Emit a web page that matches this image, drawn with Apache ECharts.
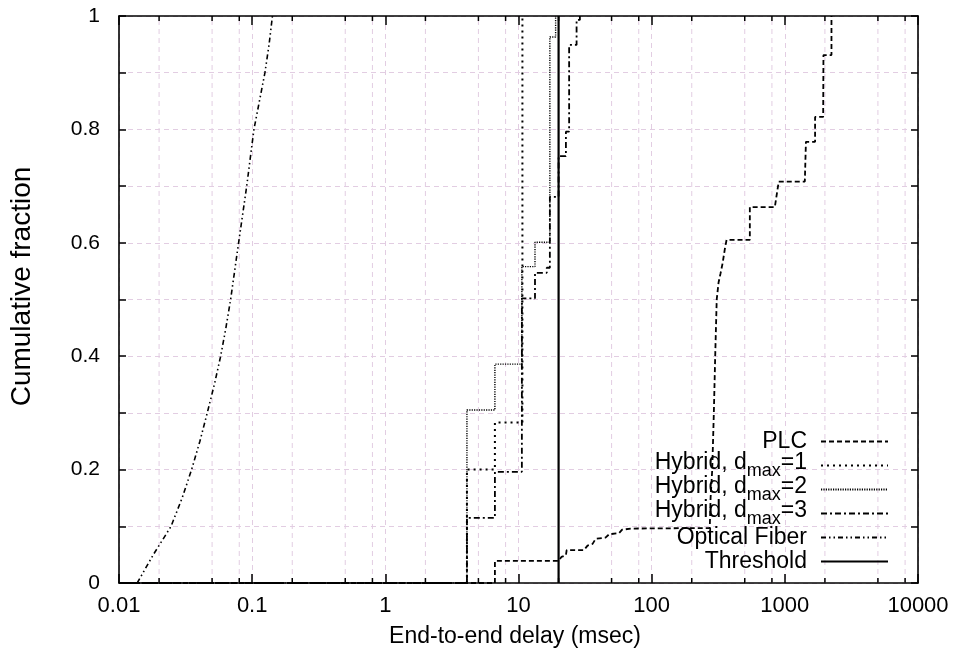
<!DOCTYPE html>
<html>
<head>
<meta charset="utf-8">
<script src="https://cdn.jsdelivr.net/npm/echarts@6/dist/echarts.min.js"></script>
<style>
html,body{margin:0;padding:0;background:#fff;}
#chart{width:957px;height:657px;}
</style>
</head>
<body>
<div id="chart"></div>
<script>
// ---- data ----
const xTickLabels = ['0.01', '0.1', '1', '10', '100', '1000', '10000'];
const yTickLabels = ['0', '0.2', '0.4', '0.6', '0.8', '1'];
// extra x grid/tick positions (2, 5, 8 in every decade)
const xMinorTicks = [0.02, 0.05, 0.08, 0.2, 0.5, 0.8, 2, 5, 8, 20, 50, 80,
  200, 500, 800, 2000, 5000, 8000];

// PLC (explicit points)
const plcX = [0.01, 6.65, 6.65, 20, 21, 22.7, 23, 31, 33, 36, 38, 45, 48, 57, 60, 70,
  273, 277, 285, 293, 300, 308, 318, 329, 341, 355, 365, 546, 546, 841, 900,
  1413, 1440, 1687, 1687, 1940, 1950, 2240, 2240];
const plcY = [0, 0, 0.039, 0.039, 0.046, 0.049, 0.058, 0.058, 0.066, 0.069, 0.078, 0.08, 0.086, 0.088, 0.094, 0.096,
  0.097, 0.15, 0.2, 0.3, 0.4, 0.5, 0.53, 0.546, 0.564, 0.59, 0.605, 0.605, 0.663, 0.663, 0.708,
  0.708, 0.778, 0.778, 0.822, 0.822, 0.931, 0.931, 1.0];

// Hybrid series (step functions, value reached at each x)
const hyb1X = [0.01, 4.1, 6.65, 10.7];
const hyb1Y = [0, 0.2, 0.283, 1.0];
const hyb2X = [0.01, 4.1, 6.65, 10.6, 13.3, 17.2, 19.0];
const hyb2Y = [0, 0.305, 0.386, 0.558, 0.601, 0.963, 1.0];
const hyb3X = [0.01, 4.1, 6.65, 10.6, 13.3, 16.3, 17.2, 20, 22.7, 24, 27.3, 28.9];
const hyb3Y = [0, 0.115, 0.196, 0.502, 0.547, 0.556, 0.681, 0.753, 0.796, 0.949, 0.993, 1.0];

// Optical fiber
const fiberX = [0.0137, 0.0181, 0.0246, 0.0298, 0.0351, 0.0405, 0.046, 0.052, 0.058, 0.0635,
  0.0689, 0.0791, 0.091, 0.1031, 0.1247, 0.134, 0.142];
const fiberY = [0, 0.05, 0.1, 0.15, 0.2, 0.25, 0.3, 0.35, 0.4, 0.45,
  0.5, 0.6, 0.7, 0.8, 0.9, 0.95, 1.0];

// Threshold
const thrX = [20, 20];
const thrY = [0, 1];

const seriesNames = ['PLC', 'Hybrid, dmax=1', 'Hybrid, dmax=2', 'Hybrid, dmax=3', 'Optical Fiber', 'Threshold'];

// ---- chart ----
const zip = (xs, ys) => xs.map((x, i) => [x, ys[i]]);
const gridColor = '#e2cde2';
const FONT = 'Liberation Sans';

const chart = echarts.init(document.getElementById('chart'), null, {renderer: 'canvas'});

function lineSeries(name, data, dash, width, step) {
  return {
    name: name, type: 'line', data: data, symbol: 'none', step: step || false,
    xAxisIndex: 0, yAxisIndex: 0, z: 3, animation: false,
    lineStyle: {color: '#000', width: width, type: dash, cap: 'butt'},
    itemStyle: {color: '#000'}
  };
}

const xLabelFmt = v => {
  const e = Math.round(Math.log10(v));
  return xTickLabels[e + 2] || '';
};

const baseX = {
  type: 'log', logBase: 10, min: 0.01, max: 10000,
  axisLine: {show: true, onZero: false, lineStyle: {color: '#000', width: 1.6}},
  axisTick: {show: true, inside: true, length: 9, lineStyle: {color: '#000', width: 1.5}},
  minorTick: {show: false},
  splitLine: {show: false},
};
const baseY = {
  type: 'value', min: 0, max: 1, interval: 0.2,
  axisLine: {show: true, lineStyle: {color: '#000', width: 1.6}},
  axisTick: {show: true, inside: true, length: 7, lineStyle: {color: '#000', width: 1.5}},
  minorTick: {show: true, splitNumber: 2, length: 7, lineStyle: {color: '#000', width: 1.5}},
  splitLine: {show: false},
};

const option = {
  backgroundColor: '#fff',
  animation: false,
  grid: {left: 119, right: 39, top: 16, bottom: 74, containLabel: false},
  xAxis: [
    Object.assign({}, baseX, {
      position: 'bottom',
      name: 'End-to-end delay (msec)', nameLocation: 'middle', nameGap: 42,
      nameTextStyle: {fontFamily: FONT, fontSize: 23, color: '#000', padding: [0, 7, 0, 0]},
      axisLabel: {show: true, margin: 12, formatter: xLabelFmt, fontFamily: FONT, fontSize: 22, color: '#000'},
      splitLine: {show: true, lineStyle: {color: gridColor, width: 1, type: [5, 4]}}
    }),
    Object.assign({}, baseX, {position: 'top', axisLabel: {show: false}})
  ],
  yAxis: [
    Object.assign({}, baseY, {
      position: 'left',
      name: 'Cumulative fraction', nameLocation: 'middle', nameGap: 83,
      nameTextStyle: {fontFamily: FONT, fontSize: 28, color: '#000', padding: [0, 0, 0, 26]},
      axisLabel: {show: true, margin: 19, fontFamily: FONT, fontSize: 21, color: '#000',
        formatter: v => yTickLabels[Math.round(v * 5)] || ''},
      splitLine: {show: true, lineStyle: {color: gridColor, width: 1, type: [5, 4]}},
      minorSplitLine: {show: true, lineStyle: {color: gridColor, width: 1, type: [5, 4]}}
    }),
    Object.assign({}, baseY, {position: 'right', axisLabel: {show: false}})
  ],
  legend: {
    show: true,
    orient: 'vertical',
    align: 'right',
    right: 68,
    top: 427,
    itemWidth: 67,
    itemHeight: 12,
    itemGap: -5,
    padding: 0,
    selectedMode: false,
    data: seriesNames,
    itemStyle: {color: 'rgba(0,0,0,0)', borderWidth: 0, opacity: 0},
    textStyle: {fontFamily: FONT, fontSize: 23, color: '#000', padding: [0, 9, 0, 0],
      rich: {
        p: {fontFamily: FONT, fontSize: 23, color: '#000', lineHeight: 29, verticalAlign: 'middle', padding: [3, 0, 3, 0]},
        a: {fontFamily: FONT, fontSize: 23, color: '#000', lineHeight: 29, verticalAlign: 'bottom', padding: [0, 0, 6, 0]},
        s: {fontFamily: FONT, fontSize: 18, color: '#000', lineHeight: 29, verticalAlign: 'top', padding: [11, 0, 0, 0]}
      }
    },
    formatter: function (name) {
      const m = name.match(/^(Hybrid, d)max(=\d)$/);
      if (m) return '{a|' + m[1] + '}{s|max}{a|' + m[2] + '}';
      return '{p|' + name + '}';
    }
  },
  series: [
    {
      type: 'custom', name: 'grid', silent: true, z: 1, animation: false,
      xAxisIndex: 0, yAxisIndex: 0,
      data: xMinorTicks.map(v => [v, 0]),
      renderItem: function (params, api) {
        const x = api.value(0);
        const b = api.coord([x, 0]);
        const t = api.coord([x, 1]);
        return {
          type: 'group',
          children: [
            {type: 'line', shape: {x1: b[0], y1: b[1], x2: t[0], y2: t[1]},
              style: {stroke: gridColor, lineWidth: 1, lineDash: [5, 4]}},
            {type: 'line', shape: {x1: b[0], y1: b[1], x2: b[0], y2: b[1] - 5},
              style: {stroke: '#000', lineWidth: 1.5}},
            {type: 'line', shape: {x1: t[0], y1: t[1], x2: t[0], y2: t[1] + 5},
              style: {stroke: '#000', lineWidth: 1.5}}
          ]
        };
      }
    },
    lineSeries('PLC', zip(plcX, plcY), [5, 3], 1.8),
    lineSeries('Hybrid, dmax=1', zip(hyb1X, hyb1Y), [2, 4], 2, 'end'),
    lineSeries('Hybrid, dmax=2', zip(hyb2X, hyb2Y), [1.2, 1.2], 1.4, 'end'),
    lineSeries('Hybrid, dmax=3', zip(hyb3X, hyb3Y), [6, 3, 2, 3], 1.8, 'end'),
    lineSeries('Optical Fiber', zip(fiberX, fiberY), [5, 3, 1.5, 3, 1.5, 3], 1.6),
    lineSeries('Threshold', zip(thrX, thrY), 'solid', 2.2)
  ]
};
chart.setOption(option);
</script>
</body>
</html>
